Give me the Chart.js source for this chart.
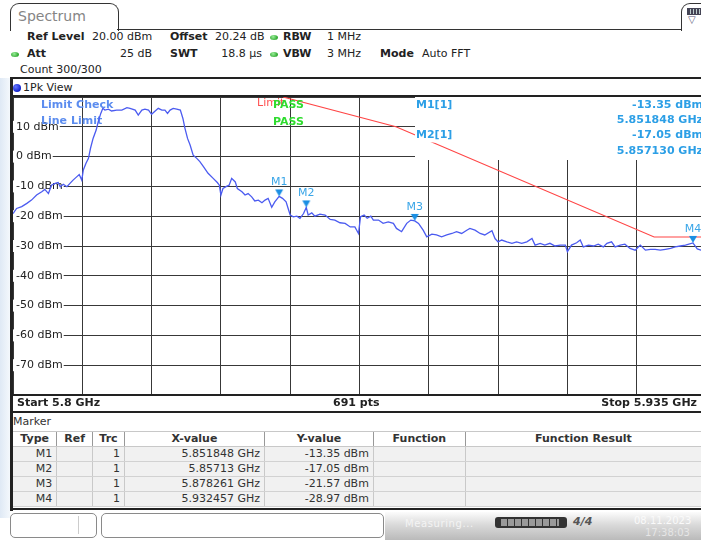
<!DOCTYPE html>
<html lang="en">
<head>
<meta charset="UTF-8">
<title>Spectrum</title>
<script src="https://cdn.jsdelivr.net/npm/chart.js"></script>
<style>
  html, body { margin: 0; padding: 0; }
  body {
    width: 701px; height: 540px; overflow: hidden; position: relative; background: #fff;
    font-family: "DejaVu Sans", Verdana, sans-serif; font-size: 11px; color: #222;
  }
  .t { position: absolute; white-space: nowrap; line-height: 14px; }
  .b { font-weight: bold; }
  .line { position: absolute; background: #222; }
  .dot { position: absolute; width: 8px; height: 5px; border-radius: 50%; background: radial-gradient(circle at 40% 35%, #9e9, #3a3 70%); }
  #glow { position: absolute; left: 0; top: 78px; width: 10px; height: 440px; background: linear-gradient(to right, #dfe9f5, #f4f8fc); }
  #tab { position: absolute; left: 10px; top: 3px; width: 107px; height: 27px; border: 1.5px solid #333; border-bottom: none; border-radius: 9px 9px 0 0; background: #fff; }
  #iconTab { position: absolute; left: 681px; top: 3px; width: 30px; height: 27px; border: 1.5px solid #333; border-bottom: none; border-radius: 9px 9px 0 0; background: #fff; }
  #chartBox { position: absolute; left: 13px; top: 97px; }
  table { position: absolute; left: 13px; top: 431px; border-collapse: collapse; table-layout: fixed; font-size: 11px; color: #333; }
  td, th { height: 14px; padding: 0 4px; line-height: 14px; white-space: nowrap; overflow: hidden; }
  th { background: #fff; border-top: 1px solid #c8c8c8; border-left: 1px solid #999; border-bottom: 1px solid #c8c8c8; }
  td { background: #f1f1f1; border-left: 1px solid #c9c9c9; border-bottom: 1px solid #d2d2d2; text-align: right; }
  th:first-child, td:first-child { border-left: none; }
  .sbox { position: absolute; top: 513px; height: 23px; border: 1px solid #8a8a8a; border-radius: 5px; background: #fff; }
</style>
</head>
<body>

<div id="glow"></div>

<!-- title tab and top bar -->
<div id="tab"></div>
<div class="t" style="left:18px;top:8px;font-size:14px;line-height:16px;color:#858585;">Spectrum</div>
<div class="line" style="left:117px;top:28.5px;width:566px;height:1.5px;background:#333;"></div>
<div id="iconTab"></div>
<div style="position:absolute;left:687px;top:8px;width:14px;height:5px;background:repeating-linear-gradient(to right,#445 0 2px,#bcc 2px 3px);border:1px solid #445;"></div>
<div class="t" style="left:688px;top:13px;font-size:10px;color:#557;">&#9661;</div>

<!-- setting readout -->
<div class="t b" style="left:27px;top:30px;">Ref Level</div>
<div class="t" style="left:92px;top:30px;">20.00 dBm</div>
<div class="t b" style="left:170px;top:30px;">Offset</div>
<div class="t" style="left:215px;top:30px;">20.24 dB</div>
<div class="dot" style="left:270px;top:35px;"></div>
<div class="t b" style="left:283px;top:30px;">RBW</div>
<div class="t" style="left:327px;top:30px;">1 MHz</div>

<div class="dot" style="left:11px;top:52px;"></div>
<div class="t b" style="left:27px;top:47px;">Att</div>
<div class="t" style="left:100px;top:47px;width:52px;text-align:right;">25 dB</div>
<div class="t b" style="left:170px;top:47px;">SWT</div>
<div class="t" style="left:200px;top:47px;width:62px;text-align:right;">18.8 µs</div>
<div class="dot" style="left:270px;top:52px;"></div>
<div class="t b" style="left:283px;top:47px;">VBW</div>
<div class="t" style="left:327px;top:47px;">3 MHz</div>
<div class="t b" style="left:380px;top:47px;">Mode</div>
<div class="t" style="left:422px;top:47px;">Auto FFT</div>

<div class="t" style="left:20px;top:63px;">Count 300/300</div>

<!-- measurement window frame -->
<div class="line" style="left:10px;top:77px;width:700px;height:2px;"></div>
<div class="line" style="left:10px;top:77px;width:2.5px;height:434px;"></div>
<div style="position:absolute;left:13px;top:84px;width:8px;height:8px;border-radius:50%;background:radial-gradient(circle at 35% 35%,#67f,#12c 70%);"></div>
<div class="t" style="left:23px;top:81px;">1Pk View</div>
<div class="line" style="left:12px;top:95px;width:700px;height:1.5px;"></div>

<div id="chartBox"><canvas id="spectrum" width="693" height="298"></canvas></div>

<div class="line" style="left:12px;top:394px;width:700px;height:2px;"></div>
<div class="t b" style="left:17px;top:396px;">Start 5.8 GHz</div>
<div class="t b" style="left:333px;top:396px;">691 pts</div>
<div class="t b" style="right:4px;top:396px;">Stop 5.935 GHz</div>
<div class="line" style="left:12px;top:411px;width:700px;height:2px;"></div>

<div class="t" style="left:13px;top:415px;color:#333;">Marker</div>
<table id="markerTable">
  <colgroup>
    <col style="width:44px"><col style="width:36px"><col style="width:32px"><col style="width:142px">
    <col style="width:110px"><col style="width:93px"><col style="width:240px">
  </colgroup>
  <thead>
    <tr><th>Type</th><th>Ref</th><th>Trc</th><th>X-value</th><th>Y-value</th><th>Function</th><th>Function Result</th></tr>
  </thead>
  <tbody></tbody>
</table>
<div class="line" style="left:12px;top:508px;width:700px;height:2px;"></div>

<!-- status bar -->
<div class="sbox" style="left:10px;width:85px;"></div>
<div style="position:absolute;left:78px;top:516px;width:1px;height:18px;background:#ccc;"></div>
<div class="sbox" style="left:101px;width:281px;"></div>
<div style="position:absolute;left:385px;top:512px;width:316px;height:28px;background:linear-gradient(#fcfcfc,#dadada 45%,#bababa);"></div>
<div class="t" style="left:405px;top:517px;font-size:10px;letter-spacing:0.6px;color:#f4f4f4;">Measuring...</div>
<div style="position:absolute;left:495px;top:517px;width:72px;height:11px;border-radius:3px;background:#333;"></div>
<div style="position:absolute;left:501px;top:519px;width:58px;height:7px;background:repeating-linear-gradient(to right,#9a9a9a 0 6px,#333 6px 7px);"></div>
<div class="t b" style="left:573px;top:515px;font-style:italic;color:#555;">4/4</div>
<div class="t" style="left:634px;top:514px;font-size:10px;color:#fafafa;">08.11.2023</div>
<div class="t" style="left:645px;top:526px;font-size:10px;color:#e6e6e6;">17:38:03</div>

<script>
// sweep axes
const xTicks = [5800, 5813.5, 5827, 5840.5, 5854, 5867.5, 5881, 5894.5, 5908, 5921.5, 5935];
const yTicks = [20, 10, 0, -10, -20, -30, -40, -50, -60, -70, -80];
const yTickLabels = ['10 dBm', '0 dBm', '-10 dBm', '-20 dBm', '-30 dBm', '-40 dBm', '-50 dBm', '-60 dBm', '-70 dBm'];
const yLabelLevels = [10, 0, -10, -20, -30, -40, -50, -60, -70];

// trace 1 (MHz / dBm)
const traceFreq = [
  5800.0, 5800.7, 5801.7, 5802.7, 5803.6, 5804.6, 5805.6, 5806.2, 5806.9, 5807.5,
  5808.2, 5808.8, 5809.2, 5809.8, 5810.5, 5811.1, 5811.7, 5812.4, 5812.9, 5813.4,
  5813.7, 5814.2, 5814.7, 5815.1, 5815.6, 5816.2, 5816.6, 5817.1, 5817.5, 5817.9,
  5818.6, 5819.2, 5820.2, 5821.2, 5822.2, 5822.8, 5823.8, 5824.4, 5825.1, 5825.7,
  5826.4, 5827.0, 5827.7, 5828.3, 5829.0, 5829.6, 5830.1, 5830.6, 5831.2, 5831.9,
  5832.6, 5833.1, 5833.5, 5834.0, 5834.5, 5835.1, 5835.8, 5836.4, 5837.1, 5838.0,
  5839.0, 5839.8, 5840.2, 5840.5, 5840.9, 5841.5, 5842.1, 5842.6, 5843.3, 5843.7,
  5844.6, 5845.2, 5845.8, 5846.5, 5847.1, 5847.8, 5848.5, 5849.1, 5849.7, 5850.4,
  5851.0, 5851.848, 5852.5, 5853.2, 5853.6, 5854.0, 5854.6, 5855.3, 5855.9, 5856.6,
  5857.13, 5857.5, 5858.2, 5858.8, 5859.8, 5860.8, 5861.8, 5862.7, 5863.7, 5864.7,
  5865.7, 5866.6, 5867.3, 5867.7, 5868.4, 5869.0, 5869.7, 5870.2, 5871.2, 5872.1,
  5873.1, 5874.1, 5874.7, 5875.7, 5876.7, 5877.5, 5878.261, 5879.0, 5879.9, 5880.6,
  5881.6, 5882.5, 5883.5, 5884.5, 5885.5, 5886.4, 5887.4, 5888.4, 5889.0, 5890.0,
  5891.0, 5891.9, 5893.3, 5893.9, 5894.5, 5895.2, 5896.2, 5897.2, 5898.1, 5899.1,
  5900.1, 5901.1, 5901.7, 5902.7, 5903.6, 5904.6, 5905.6, 5906.6, 5907.6, 5908.0,
  5908.8, 5909.8, 5910.5, 5911.1, 5912.1, 5913.1, 5914.0, 5915.0, 5915.7, 5916.6,
  5917.3, 5918.3, 5919.2, 5920.2, 5921.2, 5922.2, 5923.2, 5924.2, 5925.1, 5926.1,
  5927.1, 5928.1, 5929.0, 5930.0, 5931.0, 5932.457, 5933.3, 5934.0, 5935.0
];
const traceLevel = [
  -19.1, -17.4, -16.8, -15.7, -14.6, -12.9, -11.8, -11.0, -12.4, -9.6,
  -9.0, -8.7, -10.1, -9.3, -10.1, -9.0, -7.9, -6.8, -6.0, -7.9,
  -4.5, -2.3, -0.6, 2.8, 6.1, 8.9, 11.7, 14.5, 16.2, 15.6,
  15.9, 15.3, 15.6, 15.6, 16.4, 16.2, 15.6, 13.9, 15.6, 15.9,
  15.6, 14.2, 15.3, 16.2, 15.6, 15.6, 14.5, 15.6, 16.2, 15.9,
  15.6, 12.8, 9.5, 6.1, 3.9, 0.5, -0.6, -1.7, -3.4, -5.6,
  -7.3, -8.7, -9.6, -12.9, -10.7, -10.1, -9.6, -7.3, -8.5, -10.7,
  -11.8, -12.9, -12.4, -13.5, -14.9, -14.6, -15.5, -14.6, -14.0, -17.0,
  -15.2, -13.35, -14.0, -15.2, -17.4, -19.6, -20.2, -20.0, -20.7, -19.1,
  -17.05, -19.6, -18.9, -20.0, -19.3, -19.6, -21.1, -21.3, -22.2, -22.4,
  -23.6, -23.6, -25.8, -20.2, -19.6, -20.7, -20.0, -21.3, -21.3, -22.4,
  -21.9, -22.4, -24.1, -25.2, -22.4, -21.3, -21.57, -22.4, -24.7, -26.9,
  -26.0, -26.3, -26.9, -26.3, -25.8, -25.2, -25.8, -24.7, -24.1, -24.7,
  -25.8, -26.3, -24.9, -27.5, -28.6, -28.0, -28.6, -29.1, -28.6, -29.1,
  -28.6, -27.5, -29.7, -29.1, -29.7, -29.1, -30.0, -29.7, -29.7, -31.9,
  -29.7, -28.9, -28.0, -30.3, -29.7, -30.0, -29.4, -30.3, -29.1, -28.6,
  -30.3, -29.7, -29.4, -30.8, -31.4, -29.7, -31.4, -31.1, -31.1, -31.4,
  -31.1, -30.8, -30.3, -30.0, -29.7, -28.97, -31.0, -31.4, -31.0
];

// limit line
const limitFreq = [5852.6, 5874.6, 5924.9, 5935];
const limitLevel = [20, 10, -27, -27];

// markers
const markerNames = ['M1', 'M2', 'M3', 'M4'];
const markerFreqGHz = [5.851848, 5.85713, 5.878261, 5.932457];
const markerLevel = [-13.35, -17.05, -21.57, -28.97];

// marker table rows
const tbody = document.querySelector('#markerTable tbody');
markerNames.forEach((name, i) => {
  const tr = document.createElement('tr');
  const cells = [name, '', '1', markerFreqGHz[i] + ' GHz', markerLevel[i].toFixed(2) + ' dBm', '', ''];
  cells.forEach(c => {
    const td = document.createElement('td');
    td.textContent = c;
    tr.appendChild(td);
  });
  tbody.appendChild(tr);
});

// down-pointing marker flag, tip sits on the canvas centre
const markerIcon = document.createElement('canvas');
markerIcon.width = 10;
markerIcon.height = 20;
(() => {
  const c = markerIcon.getContext('2d');
  c.fillStyle = '#1b8fe3';
  c.beginPath();
  c.moveTo(1, 3);
  c.lineTo(9, 3);
  c.lineTo(5, 10);
  c.closePath();
  c.fill();
})();

const FONT = '"DejaVu Sans", Verdana, sans-serif';

const plotLabels = {
  id: 'plotLabels',
  beforeDatasetsDraw(chart) {
    const { ctx, scales: { y } } = chart;
    ctx.save();
    // readout panel sits over the grid in the top right corner
    ctx.fillStyle = '#fff';
    ctx.fillRect(402, 0, chart.width - 402, 63);

    ctx.font = '11px ' + FONT;
    ctx.textBaseline = 'middle';
    yTickLabels.forEach((txt, i) => {
      const py = y.getPixelForValue(yLabelLevels[i]);
      const w = ctx.measureText(txt).width;
      ctx.fillStyle = '#fff';
      ctx.fillRect(0, py - 6, w + 4, 12);
      ctx.fillStyle = '#222';
      ctx.fillText(txt, 3, py);
    });

    ctx.font = 'bold 11px ' + FONT;
    ctx.fillStyle = '#5b8cef';
    ctx.fillText('Limit Check', 28, 8);
    ctx.fillText('Line Limit', 28, 24);
    ctx.restore();
  },
  afterDatasetsDraw(chart) {
    const { ctx, scales: { x, y } } = chart;
    ctx.save();
    ctx.textBaseline = 'middle';

    ctx.font = '11px ' + FONT;
    ctx.fillStyle = '#ff5050';
    ctx.fillText('Limit', 244, 6);
    ctx.font = 'bold 11px ' + FONT;
    ctx.fillStyle = '#2fdc2f';
    ctx.fillText('PASS', 260, 8);
    ctx.fillText('PASS', 260, 25);

    // marker readout
    ctx.fillStyle = '#2c9fe6';
    const rows = [
      [markerNames[0] + '[1]', markerLevel[0].toFixed(2) + ' dBm', 8],
      ['', markerFreqGHz[0].toFixed(6) + ' GHz', 23],
      [markerNames[1] + '[1]', markerLevel[1].toFixed(2) + ' dBm', 38.5],
      ['', markerFreqGHz[1].toFixed(6) + ' GHz', 54]
    ];
    rows.forEach(([left, right, py]) => {
      if (left) {
        const w = ctx.measureText(left).width;
        ctx.fillStyle = '#fff';
        ctx.fillRect(402, py - 7, w + 3, 14);
        ctx.fillStyle = '#2c9fe6';
        ctx.textAlign = 'left';
        ctx.fillText(left, 403, py);
      }
      ctx.textAlign = 'right';
      ctx.fillText(right, 690, py);
    });

    // marker names above the flags
    ctx.font = '11px ' + FONT;
    ctx.fillStyle = '#3aa6e8';
    ctx.textAlign = 'center';
    markerNames.forEach((name, i) => {
      const px = x.getPixelForValue(markerFreqGHz[i] * 1000);
      const py = y.getPixelForValue(markerLevel[i]);
      ctx.fillText(name, px, py - 14);
    });
    ctx.restore();
  }
};

const ctx = document.getElementById('spectrum').getContext('2d');

const spectrumChart = new Chart(ctx, {
  type: 'line',
  data: {
    datasets: [
      {
        label: 'Markers',
        data: markerNames.map((n, i) => ({ x: markerFreqGHz[i] * 1000, y: markerLevel[i] })),
        showLine: false,
        pointStyle: markerIcon,
        pointRadius: 5,
        order: 0
      },
      {
        label: '1Pk View',
        data: traceFreq.map((f, i) => ({ x: f, y: traceLevel[i] })),
        borderColor: '#4b5bf0',
        borderWidth: 1.3,
        pointRadius: 0,
        order: 1
      },
      {
        label: 'Limit',
        data: limitFreq.map((f, i) => ({ x: f, y: limitLevel[i] })),
        borderColor: '#ff4545',
        borderWidth: 1.1,
        pointRadius: 0,
        order: 2
      }
    ]
  },
  options: {
    responsive: false,
    animation: false,
    devicePixelRatio: 1,
    layout: { padding: 0, autoPadding: false },
    elements: { line: { tension: 0 } },
    plugins: { legend: { display: false }, tooltip: { enabled: false } },
    scales: {
      x: {
        type: 'linear', min: 5800, max: 5935,
        afterBuildTicks: s => { s.ticks = xTicks.map(v => ({ value: v })); },
        ticks: { display: false },
        grid: { color: '#383838', lineWidth: 1, drawTicks: false },
        border: { display: false }
      },
      y: {
        type: 'linear', min: -80, max: 20,
        afterBuildTicks: s => { s.ticks = yTicks.map(v => ({ value: v })); },
        ticks: { display: false },
        grid: { color: '#383838', lineWidth: 1, drawTicks: false },
        border: { display: false }
      }
    }
  },
  plugins: [plotLabels]
});
</script>
</body>
</html>
